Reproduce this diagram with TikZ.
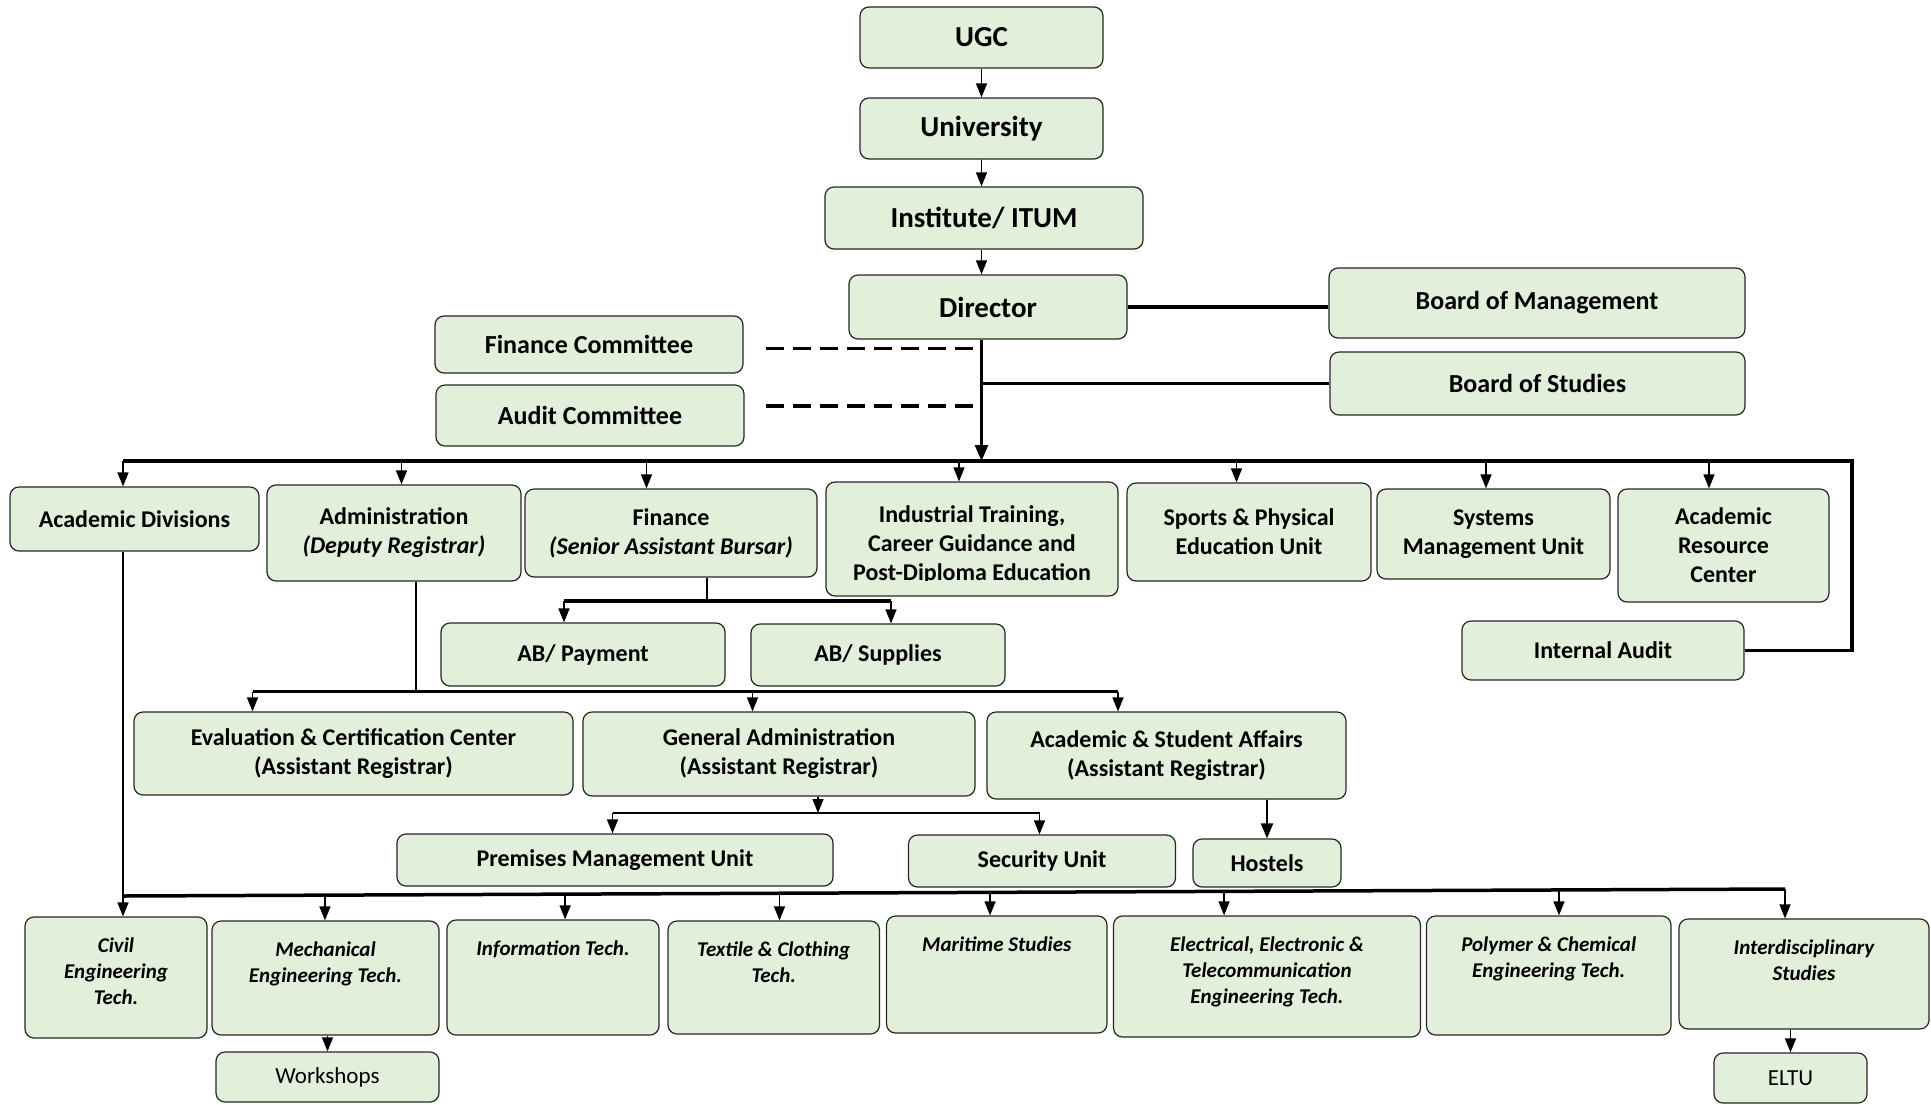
\documentclass[tikz,border=0pt]{standalone}
\usepackage{fontspec}
\setmainfont{Carlito}
\usetikzlibrary{arrows.meta,calc}
\definecolor{boxfill}{HTML}{E2EFDA}
\begin{document}
\begin{tikzpicture}[x=1pt,y=-1pt,
  box/.style={draw=black!85, line width=1.2pt, fill=boxfill, rounded corners=9pt, inner sep=2pt, align=center},
  sz/.style 2 args={minimum width=#1pt, minimum height=#2pt},
  title/.style={box, font=\bfseries\fontsize{29}{35}\selectfont},
  mid/.style={box, font=\bfseries\fontsize{26}{31}\selectfont},
  unit/.style={box, font=\bfseries\fontsize{24}{29}\selectfont},
  plain/.style={box, font=\fontsize{23}{28}\selectfont},
  dlab/.style={anchor=north, inner sep=0pt, align=center, font=\bfseries\itshape\fontsize{21}{26}\selectfont},
  arr/.style={line width=1.4pt, -{Triangle[width=11pt,length=14pt]}},
  bus/.style={line width=3.5pt},
  dashline/.style={line width=3.8pt, dash pattern=on 18pt off 9pt},
  ]
\useasboundingbox (0,0) rectangle (1931,1104);
\fill[white] (0,0) rectangle (1931,1104);

% ---- top chain
\node[title, sz={243}{61}] (ugc) at (981.5,37.5) {\raisebox{-2pt}{UGC}};
\node[title, sz={243}{61}] (univ) at (981.5,128.5) {\raisebox{-2pt}{University}};
\node[title, sz={318}{62}] (inst) at (984,218) {Institute/ ITUM};
\node[title, sz={278}{64}] (dir) at (988,307) {Director};
\node[mid, sz={416}{70}] (bom) at (1537,303) {Board of Management};
\node[mid, sz={415}{63}] (bos) at (1537.5,383.5) {Board of Studies};
\node[mid, sz={308}{57}] (fc) at (589,344.5) {Finance Committee};
\node[mid, sz={308}{61}] (ac) at (590,415.5) {Audit Committee};

\draw[arr] (ugc.south) -- (univ.north);
\draw[arr] (univ.south) -- (univ.south |- inst.north);
\draw[arr] (univ.south |- inst.south) -- (univ.south |- dir.north);

\coordinate (trunk) at (981.5,461);
\draw[line width=2.6pt, -{Triangle[width=13pt,length=16pt]}] (trunk |- dir.south) -- (trunk);
\draw[line width=3.8pt] (dir.east) -- (dir.east -| bom.west);
\draw[line width=3.8pt] (trunk |- bos.west) -- (bos.west);
\coordinate (fcd) at ([xshift=22pt,yshift=-4pt]fc.east);
\coordinate (acd) at ([xshift=21pt,yshift=9.5pt]ac.east);
\draw[dashline] (fcd) -- (fcd -| trunk);
\draw[dashline] (acd) -- (acd -| trunk);

% ---- second row
\node[unit, sz={249}{64}] (acad) at (134.5,519) {Academic Divisions};
\node[unit, sz={254}{96}] (admin) at (394,533) {Administration\\\textit{(Deputy Registrar)}};
\node[unit, sz={292}{88}] (fin) at (671,533) {Finance\\\textit{(Senior Assistant Bursar)}};
\node[unit, sz={292}{114}] (ind) at (972,539) {};
\begin{scope}
\clip (826,482) rectangle (1118,580);
\node[inner sep=0pt, align=center, font=\bfseries\fontsize{24}{29}\selectfont] (indtxt) at (972,545) {Industrial Training,\\Career Guidance and\\Post-Diploma Education};
\end{scope}
\node[unit, sz={244}{98}] (sports) at (1249,532) {Sports \& Physical\\Education Unit};
\node[unit, sz={233}{90}] (sys) at (1493.5,534) {Systems\\Management Unit};
\node[unit, sz={211}{113}] (arc) at (1723.5,545.5) {Academic\\Resource\\Center};
\node[unit, sz={282}{59}] (ia) at (1603,650.5) {Internal Audit};

\coordinate (busL) at (123,461);
\coordinate (busR) at (1852,461);
\draw[bus] (busL) -- (busR) |- (ia.east);
\foreach \n/\x in {admin/401.5, fin/646.5, ind/959, sports/1236.5, sys/1486, arc/1709}
  { \coordinate (d-\n) at (\x,461); \draw[arr] (d-\n) -- (d-\n |- \n.north); }
\draw[arr] (busL) -- (busL |- acad.north);

% ---- finance subtree
\node[unit, sz={284}{63}] (abp) at (583,654.5) {AB/ Payment};
\node[unit, sz={254}{62}] (abs) at (878,655) {AB/ Supplies};
\coordinate (fj) at (707,601);
\coordinate (fL) at (564,601);
\coordinate (fR) at (891,601);
\draw[line width=1.4pt] (fin.south -| fj) -- (fj);
\draw[bus] (fL) -- (fR);
\draw[arr] (fL) -- (fL |- abp.north);
\draw[arr] (fR) -- (fR |- abs.north);

% ---- administration subtree
\node[unit, sz={439}{83}] (eval) at (353.5,753.5) {Evaluation \& Certification Center\\(Assistant Registrar)};
\node[unit, sz={392}{84}] (ga) at (779,754) {General Administration\\(Assistant Registrar)};
\node[unit, sz={359}{87}] (asa) at (1166.5,755.5) {Academic \& Student Affairs\\(Assistant Registrar)};
\coordinate (aj) at (416,691.5);
\coordinate (aL) at (252.5,691.5);
\coordinate (aM) at (752.5,691.5);
\coordinate (aR) at (1118,691.5);
\draw[line width=1.4pt] (admin.south -| aj) -- (aj);
\draw[bus] (aL) -- (aR);
\draw[arr] (aL) -- (aL |- eval.north);
\draw[arr] (aM) -- (aM |- ga.north);
\draw[arr] (aR) -- (aR |- asa.north);

\node[unit, sz={436}{52}] (prem) at (615,860) {Premises Management Unit};
\node[unit, sz={267}{52}] (sec) at (1042,861) {\raisebox{-3pt}{Security Unit}};
\node[unit, sz={148}{48}] (host) at (1267,863) {\raisebox{-6pt}{Hostels}};
\coordinate (gj) at (818,813);
\coordinate (gL) at (612.5,813);
\coordinate (gR) at (1039.5,813);
\draw[arr] (ga.south -| gj) -- (gj);
\draw[line width=2.5pt] (gL) -- (gR);
\draw[arr] (gL) -- (gL |- prem.north);
\draw[arr] (gR) -- (gR |- sec.north);
\draw[line width=2pt, -{Triangle[width=12pt,length=15pt]}] (asa.south -| host.north) -- (host.north);

% ---- academic divisions
\node[box, sz={182}{121}] (civil) at (116,977.5) {};
\node[box, sz={227}{114}] (mech) at (325.5,978) {};
\node[box, sz={212}{115}] (it) at (553,977.5) {};
\node[box, sz={211.5}{113}] (tex) at (773.75,977.5) {};
\node[box, sz={220.5}{117}] (mar) at (996.75,974.5) {};
\node[box, sz={307}{121}] (elec) at (1267,976.5) {};
\node[box, sz={244.5}{119}] (poly) at (1548.75,975.5) {};
\node[box, sz={250}{110}] (inter) at (1804,974) {};
\node[dlab] (civil-t) at ([yshift=-21pt]civil.north) {Civil\\Engineering\\Tech.};
\node[dlab] (mech-t) at ([yshift=-21pt]mech.north) {Mechanical\\Engineering Tech.};
\node[dlab] (it-t) at ([yshift=-21pt]it.north) {Information Tech.};
\node[dlab] (tex-t) at ([yshift=-21pt]tex.north) {Textile \& Clothing\\Tech.};
\node[dlab] (mar-t) at ([yshift=-21pt]mar.north) {Maritime Studies};
\node[dlab] (elec-t) at ([yshift=-21pt]elec.north) {Electrical, Electronic \&\\Telecommunication\\Engineering Tech.};
\node[dlab] (poly-t) at ([yshift=-21pt]poly.north) {Polymer \& Chemical\\Engineering Tech.};
\node[dlab] (inter-t) at ([yshift=-21pt]inter.north) {Interdisciplinary\\Studies};

\node[plain, sz={223}{50}] (work) at (327.5,1077) {\raisebox{-3pt}{Workshops}};
\node[plain, sz={153}{50}] (eltu) at (1790.5,1078) {\raisebox{-3pt}{ELTU}};

\coordinate (bL) at (123,896);
\coordinate (bR) at (1785,889);
\draw[arr] (acad.south -| bL) -- (bL |- civil.north);
\draw[bus] (bL) -- (bR);
\foreach \n/\t in {mech/0.1215, it/0.266, tex/0.395, mar/0.5217, elec/0.6625, poly/0.864, inter/1}
  { \coordinate (b-\n) at ($(bL)!\t!(bR)$); \draw[arr] (b-\n) -- (b-\n |- \n.north); }
\draw[arr] (work.north |- mech.south) -- (work.north);
\draw[arr] (eltu.north |- inter.south) -- (eltu.north);
\end{tikzpicture}
\end{document}
